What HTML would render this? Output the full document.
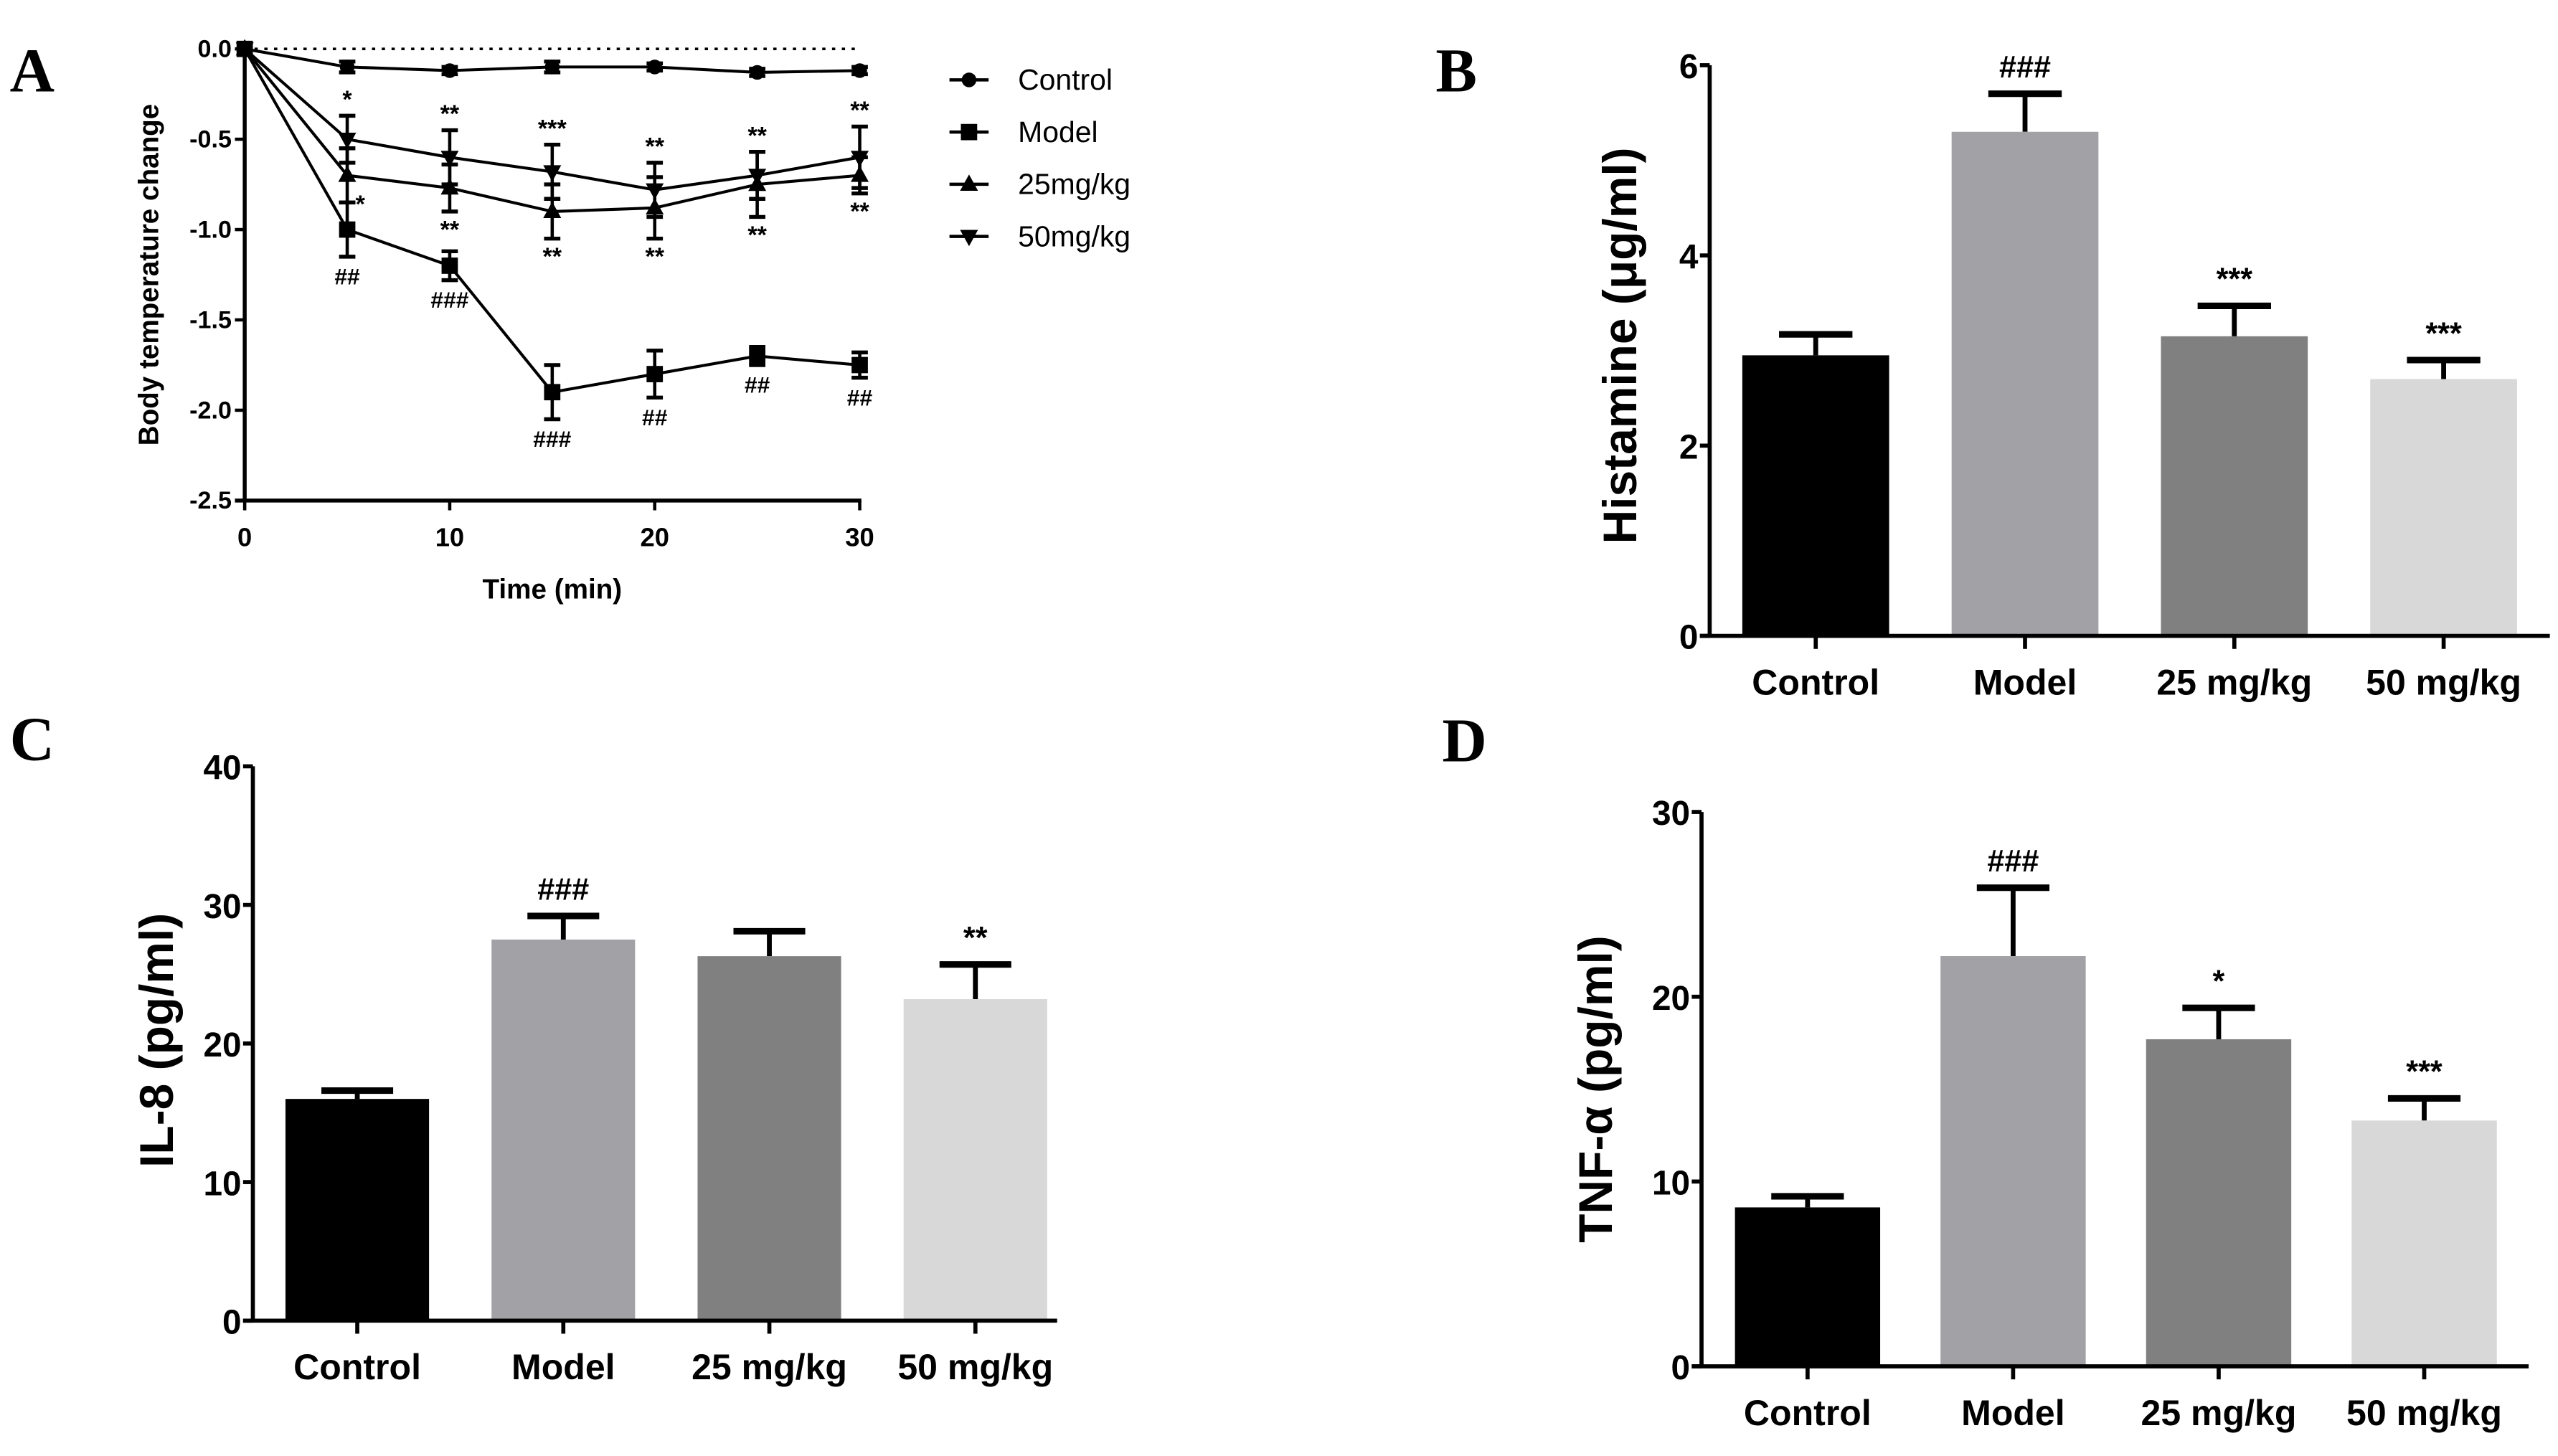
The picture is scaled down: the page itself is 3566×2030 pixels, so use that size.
<!DOCTYPE html>
<html><head><meta charset="utf-8"><style>
html,body{margin:0;padding:0;background:#fff;}
svg{display:block;}
</style></head><body>
<svg id="fig" width="3566" height="2030" viewBox="0 0 1568 893" preserveAspectRatio="none" xmlns="http://www.w3.org/2000/svg" font-family="Liberation Sans, Arial, sans-serif">
<text x="6" y="56" style="font-family:'Liberation Serif',serif" font-weight="bold" font-size="38">A</text>
<text x="880" y="56" style="font-family:'Liberation Serif',serif" font-weight="bold" font-size="38">B</text>
<text x="6" y="466" style="font-family:'Liberation Serif',serif" font-weight="bold" font-size="38">C</text>
<text x="884" y="467" style="font-family:'Liberation Serif',serif" font-weight="bold" font-size="38">D</text>
</svg>
<script>
// ---- Panel A data ----
const timePoints = [0,5,10,15,20,25,30];
const seriesNames = ["Control","Model","25mg/kg","50mg/kg"];
const controlVals = [0,-0.10,-0.12,-0.10,-0.10,-0.13,-0.12];
const controlErr  = [0,0.03,0.02,0.03,0.02,0.02,0.02];
const modelVals   = [0,-1.00,-1.20,-1.90,-1.80,-1.70,-1.75];
const modelErr    = [0,0.15,0.08,0.15,0.13,0.05,0.07];
const dose25Vals  = [0,-0.70,-0.77,-0.90,-0.88,-0.75,-0.70];
const dose25Err   = [0,0.15,0.13,0.15,0.17,0.18,0.10];
const dose50Vals  = [0,-0.50,-0.60,-0.68,-0.78,-0.70,-0.60];
const dose50Err   = [0,0.13,0.15,0.15,0.15,0.13,0.17];
const aYTicks = [0,-0.5,-1.0,-1.5,-2.0,-2.5];
const aYTickLabels = ["0.0","-0.5","-1.0","-1.5","-2.0","-2.5"];
const aXTicks = [0,10,20,30];
const upperStars = ["*","**","***","**","**","**"];
const lowerStars = ["*","**","**","**","**","**"];
const modelHashes = ["##","###","###","##","##","##"];
// ---- Bar panels data ----
const groups = ["Control","Model","25 mg/kg","50 mg/kg"];
const histVals = [2.95,5.30,3.15,2.70];
const histErr  = [0.22,0.40,0.32,0.20];
const histTicks = [0,2,4,6];
const histMarks = ["","###","***","***"];
const il8Vals = [16.0,27.5,26.3,23.2];
const il8Err  = [0.6,1.7,1.8,2.5];
const il8Ticks = [0,10,20,30,40];
const il8Marks = ["","###","","**"];
const tnfVals = [8.6,22.2,17.7,13.3];
const tnfErr  = [0.6,3.7,1.7,1.2];
const tnfTicks = [0,10,20,30];
const tnfMarks = ["","###","*","***"];

const NS="http://www.w3.org/2000/svg";
const svg=document.getElementById('fig');
function mk(tag,attrs,parent,txt){const e=document.createElementNS(NS,tag);for(const k in attrs)e.setAttribute(k,attrs[k]);if(txt!==undefined)e.textContent=txt;(parent||svg).appendChild(e);return e;}

// ---- Panel A ----
(function(){
  const g=mk('g',{});
  
  
  const x0=150,x1=527,y0=30,y1=307;
  const X=t=>x0+(t-0)/(30-0)*(x1-x0);
  const Y=v=>y0+(0-v)/(2.5)*(y1-y0);
  const dot=mk('line',{x1:X(0),x2:X(30),y1:Y(0),y2:Y(0),stroke:'#000','stroke-width':1.6,'stroke-dasharray':'2,4'},g);
  
  
  const ya=mk('line',{x1:x0,x2:x0,y1:Y(0)-2,y2:y1+1,stroke:'#000','stroke-width':2.4},g);
  
  
  const xa=mk('line',{x1:x0-6,x2:x1+1,y1:y1,y2:y1,stroke:'#000','stroke-width':2.4},g);
  
  
  aYTicks.forEach((v,i)=>{
    mk('line',{x1:x0-6,x2:x0,y1:Y(v),y2:Y(v),stroke:'#000','stroke-width':2},g);
    const t=mk('text',{x:x0-8,y:Y(v)+5,'text-anchor':'end','font-size':15,'font-weight':'bold'},g,aYTickLabels[i]);
    
    
  });
  aXTicks.forEach(v=>{
    mk('line',{x1:X(v),x2:X(v),y1:y1,y2:y1+6,stroke:'#000','stroke-width':2},g);
    const t=mk('text',{x:X(v),y:y1+28,'text-anchor':'middle','font-size':16,'font-weight':'bold'},g,String(v));
    
    
  });
  const yt=mk('text',{x:0,y:0,'text-anchor':'middle','font-size':17,'font-weight':'bold',transform:`translate(97,${(y0+y1)/2}) rotate(-90)`},g,'Body temperature change');
  
  
  const xt=mk('text',{x:(x0+x1)/2,y:367,'text-anchor':'middle','font-size':17,'font-weight':'bold'},g,'Time (min)');
  
  
  function marker(type,cx,cy,p){
    let e;
    if(type==='circle') e=mk('circle',{cx:cx,cy:cy,r:4.5,fill:'#000'},p);
    else if(type==='square') e=mk('rect',{x:cx-5,y:cy-5,width:10,height:10,fill:'#000'},p);
    else if(type==='up') e=mk('polygon',{points:`${cx},${cy-6} ${cx-5.5},${cy+4} ${cx+5.5},${cy+4}`,fill:'#000'},p);
    else e=mk('polygon',{points:`${cx},${cy+6} ${cx-5.5},${cy-4} ${cx+5.5},${cy-4}`,fill:'#000'},p);
    return e;
  }
  const all=[[controlVals,controlErr,'circle','control'],[modelVals,modelErr,'square','model'],[dose25Vals,dose25Err,'up','25mg-kg'],[dose50Vals,dose50Err,'down','50mg-kg']];
  all.forEach(([vals,errs,m,nm])=>{
    const sg=mk('g',{},g);
    
    
    const pl=mk('polyline',{points:vals.map((v,i)=>X(timePoints[i])+','+Y(v)).join(' '),fill:'none',stroke:'#000','stroke-width':1.8},sg);
    
    
    vals.forEach((v,i)=>{
      const cx=X(timePoints[i]);
      if(errs[i]>0){
        mk('line',{x1:cx,x2:cx,y1:Y(v-errs[i]),y2:Y(v+errs[i]),stroke:'#000','stroke-width':2},sg);
        mk('line',{x1:cx-5,x2:cx+5,y1:Y(v-errs[i]),y2:Y(v-errs[i]),stroke:'#000','stroke-width':2.4},sg);
        mk('line',{x1:cx-5,x2:cx+5,y1:Y(v+errs[i]),y2:Y(v+errs[i]),stroke:'#000','stroke-width':2.4},sg);
      }
      const pt=marker(m,cx,Y(v),sg);
      
      
    });
  });
  for(let i=1;i<timePoints.length;i++){
    const cx=X(timePoints[i]);
    const a=mk('text',{x:cx,y:Y(dose50Vals[i]+dose50Err[i])-5,'text-anchor':'middle','font-size':15,'font-weight':'bold'},g,upperStars[i-1]);
    
    
    const lx=i===1?cx+8:cx;
    const b=mk('text',{x:lx,y:Y(dose25Vals[i]-dose25Err[i])+(i===1?6:16),'text-anchor':'middle','font-size':15,'font-weight':'bold'},g,lowerStars[i-1]);
    
    
    const c=mk('text',{x:cx,y:Y(modelVals[i]-modelErr[i])+17,'text-anchor':'middle','font-size':14,'font-weight':'bold'},g,modelHashes[i-1]);
    
    
  }
  const types=['circle','square','up','down'];
  seriesNames.forEach((n,i)=>{
    const ly=49+i*32;
    const lg=mk('g',{},g);
    
    
    mk('line',{x1:582,x2:606,y1:ly,y2:ly,stroke:'#000','stroke-width':2},lg);
    marker(types[i],594,ly,lg);
    mk('text',{x:624,y:ly+6,'font-size':18},lg,n);
  });
})();

// ---- Bar panels ----
const barColors=['#000000','#a2a2a6','#808080','#d8d8d8'];
function barChart(cfg,vals,errs,ticks,marks){
  const g=mk('g',{});
  
  
  const {ax,yb,yt,xe,x0c,dx,bw,max}=cfg;
  const Y=v=>yb-(v/max)*(yb-yt);
  const X=i=>x0c+i*dx;
  vals.forEach((v,i)=>{
    const cx=X(i);
    const el=mk('line',{x1:cx,x2:cx,y1:Y(v),y2:Y(v+errs[i]),stroke:'#000','stroke-width':3},g);
    
    
    mk('line',{x1:cx-bw*0.25,x2:cx+bw*0.25,y1:Y(v+errs[i]),y2:Y(v+errs[i]),stroke:'#000','stroke-width':4},g);
    const r=mk('rect',{x:cx-bw/2,y:Y(v),width:bw,height:yb-Y(v),fill:barColors[i]},g);
    
    
    if(marks[i]){
      const t=mk('text',{x:cx,y:Y(v+errs[i])-10,'text-anchor':'middle','font-size':19,'font-weight':'bold'},g,marks[i]);
      
      
    }
    mk('line',{x1:cx,x2:cx,y1:yb,y2:yb+8,stroke:'#000','stroke-width':2.5},g);
    const lb=mk('text',{x:cx,y:yb+36,'text-anchor':'middle','font-size':22,'font-weight':'bold'},g,groups[i]);
    
    
  });
  const ya=mk('line',{x1:ax,x2:ax,y1:yt,y2:yb,stroke:'#000','stroke-width':2.5},g);
  
  
  const xa=mk('line',{x1:ax-6,x2:xe,y1:yb,y2:yb,stroke:'#000','stroke-width':2.5},g);
  
  
  ticks.forEach(v=>{
    mk('line',{x1:ax-6,x2:ax,y1:Y(v),y2:Y(v),stroke:'#000','stroke-width':2.5},g);
    const t=mk('text',{x:ax-7,y:Y(v)+8,'text-anchor':'end','font-size':21,'font-weight':'bold'},g,String(v));
    
    
  });
  const tt=mk('text',{x:0,y:0,'text-anchor':'middle','font-size':29,'font-weight':'bold',transform:`translate(${cfg.tx},${cfg.ty||(yb+yt)/2}) rotate(-90)`},g,cfg.title);
  
  
}
barChart({name:'panel-b-histamine',ax:1048,yb:390,yt:40,xe:1563,x0c:1113,dx:128.3,bw:90,max:6,tx:1003,ty:212,title:'Histamine (μg/ml)'},histVals,histErr,histTicks,histMarks);
barChart({name:'panel-c-il8',ax:155,yb:810,yt:470,xe:648,x0c:219,dx:126.3,bw:88,max:40,tx:106,ty:638,title:'IL-8 (pg/ml)'},il8Vals,il8Err,il8Ticks,il8Marks);
barChart({name:'panel-d-tnf',ax:1043,yb:838,yt:498,xe:1550,x0c:1108,dx:126,bw:89,max:30,tx:988,ty:668,title:'TNF-α (pg/ml)'},tnfVals,tnfErr,tnfTicks,tnfMarks);
</script>
</body></html>
